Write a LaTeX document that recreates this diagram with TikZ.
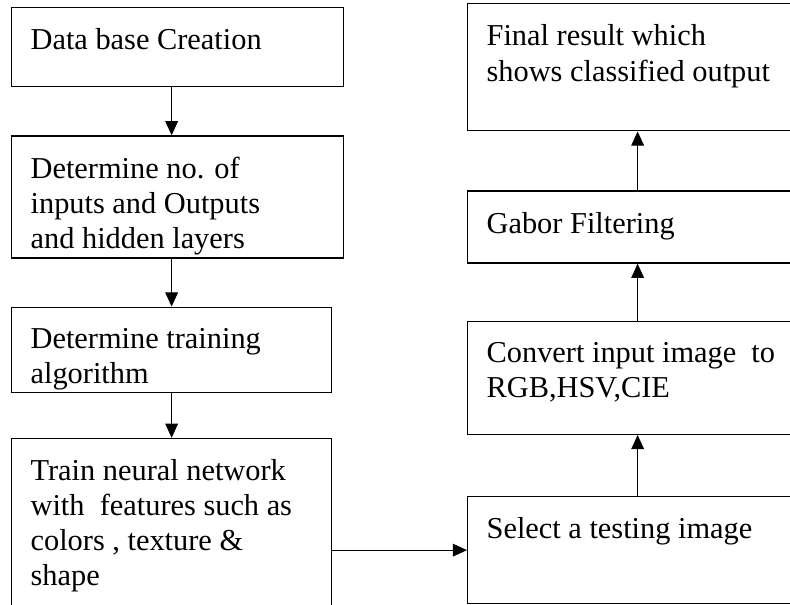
\documentclass[tikz,border=0pt]{standalone}
\usepackage{fontspec}
\setmainfont{Liberation Serif}
\usetikzlibrary{positioning}
\usetikzlibrary{arrows.meta}
\tikzset{
  block/.style={draw, rectangle, line width=0.9pt, inner xsep=0.475cm,
    inner ysep=0.525cm, font=\fontsize{21.6}{25}\selectfont},
  line/.style={draw, line width=0.7pt, -{Triangle[length=10pt,width=9pt]}}
}
\newcommand{\boxtext}[3]{\parbox[t][#2][t]{#1}{\raggedright #3}}

\begin{document}
\begin{tikzpicture}
    \useasboundingbox (0,0) rectangle (19.75,-15.1);
    \clip (0,0) rectangle (19.75,-15.1);
    % Place nodes: training side
    \node [block, anchor=north west] (a) at (0.275,-0.175)
        {\boxtext{7.35cm}{0.925cm}{Data base Creation}};
    \node [block, below=1.2cm of a.south west, anchor=north west] (b)
        {\boxtext{7.35cm}{2.0cm}{Determine no. of\\ inputs and Outputs\\ and hidden layers}};
    \node [block, below=1.2cm of b.south west, anchor=north west] (c)
        {\boxtext{7.05cm}{1.075cm}{Determine training\\ algorithm}};
    \node [block, below=1.125cm of c.south west, anchor=north west] (d)
        {\boxtext{7.05cm}{3.175cm}{Train neural network\\ with~ features such as\\ colors , texture \&\\ shape}};

    % Place nodes: testing side
    \node [block, anchor=north west] (e) at (11.675,-12.4)
        {\boxtext{7.55cm}{1.625cm}{Select a testing image}};
    \node [block, above=1.525cm of e.north west, anchor=south west] (f)
        {\boxtext{7.55cm}{1.775cm}{Convert input image~ to\\ RGB,HSV,CIE}};
    \node [block, above=1.425cm of f.north west, anchor=south west] (g)
        {\boxtext{7.55cm}{0.75cm}{Gabor Filtering}};
    \node [block, above=1.475cm of g.north west, anchor=south west] (h)
        {\boxtext{7.55cm}{2.125cm}{Final result which\\ shows classified output}};

    % Draw edges
    \path [line] (a.south -| d.north) -- (b.north -| d.north);
    \path [line] (b.south -| d.north) -- (c.north -| d.north);
    \path [line] (c.south -| d.north) -- (d.north);
    \path [line] (d.east |- e.west) -- (e.west);
    \path [line] (e) -- (f);
    \path [line] (f) -- (g);
    \path [line] (g) -- (h);
\end{tikzpicture}
\end{document}
